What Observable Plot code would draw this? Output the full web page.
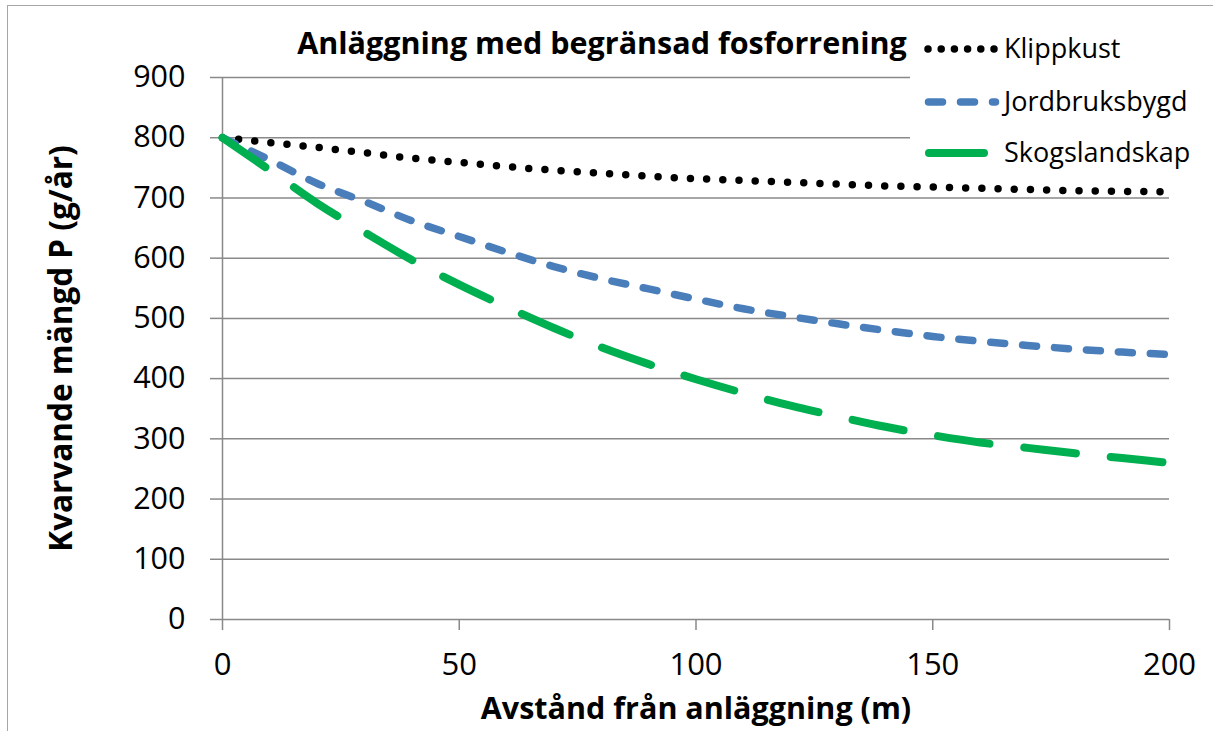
<!DOCTYPE html>
<html>
<head>
<meta charset="utf-8">
<script src="https://cdn.jsdelivr.net/npm/d3@7"></script>
<script src="https://cdn.jsdelivr.net/npm/@observablehq/plot@0.6"></script>
<style>
  body { margin: 0; background: white; }
  #wrap { position: relative; width: 1213px; height: 731px; overflow: hidden; background: white; }
  #border { position: absolute; left: 7px; top: 5px; width: 1230px; height: 750px; border: 1.5px solid #a6a6a6; pointer-events: none; }
  #legend { position: absolute; left: 910px; top: 22px; width: 303px; height: 160px; background: white; font-family: "Open Sans", sans-serif; font-size: 27px; color: #000; }
  .row { position: absolute; left: 0; height: 40px; width: 303px; }
  .row svg { position: absolute; left: 0; top: 0; }
  .row span { position: absolute; left: 94px; top: 0; line-height: 40px; white-space: nowrap; }
</style>
</head>
<body>
<div id="wrap">
  <div id="chart"></div>
  <div id="legend"></div>
  <div id="border"></div>
</div>
<script>
// ---- data ----
const distance = [0, 10, 20, 30, 40, 50, 60, 70, 80, 90, 100, 110, 120, 130, 140, 150, 160, 170, 180, 190, 200];
const klippkust = [800, 792, 784, 775, 766, 759, 752, 746, 741, 736, 732, 729, 726, 723, 720, 718, 716, 714, 712, 711, 710];
const jordbruksbygd = [800, 763, 724, 694, 662, 636, 610, 586, 566, 549, 532, 516, 503, 491, 480, 470, 462, 455, 449, 444, 440];
const skogslandskap = [800, 746, 691, 643, 597, 556, 519, 484, 452, 424, 399, 376, 355, 337, 320, 306, 294, 285, 276, 268, 260];
const seriesNames = ["Klippkust", "Jordbruksbygd", "Skogslandskap"];
const seriesValues = [klippkust, jordbruksbygd, skogslandskap];
const seriesColors = ["#000000", "#4a7ebb", "#00b050"];
const xTicks = [0, 50, 100, 150, 200];
const yTicks = [0, 100, 200, 300, 400, 500, 600, 700, 800, 900];
const titleText = "Anläggning med begränsad fosforrening";
const xLabel = "Avstånd från anläggning (m)";
const yLabel = "Kvarvande mängd P (g/år)";

// ---- styles ----
const lineStyles = [
  {strokeWidth: 7.5, strokeDasharray: "0 16.2"},
  {strokeWidth: 7.5, strokeDasharray: "14 18"},
  {strokeWidth: 8, strokeDasharray: "52 35"}
];
const legendStyles = [
  {w: 7.5, dash: "0 13.2", x1: 18, x2: 84},
  {w: 7.5, dash: "14 18", x1: 18.5, x2: 85.5},
  {w: 8, dash: "none", x1: 19, x2: 74}
];
const gridColor = "#898989";
const font = "'Open Sans', sans-serif";

const rows = seriesNames.map((name, i) =>
  distance.map((d, j) => ({series: name, distance: d, value: seriesValues[i][j]}))
);

const chart = Plot.plot({
  width: 1213,
  height: 731,
  marginLeft: 222,
  marginRight: 44,
  marginTop: 77,
  marginBottom: 112,
  style: {fontFamily: font, fontSize: "30px", background: "white", overflow: "visible"},
  x: {domain: [0, 200]},
  y: {domain: [0, 900]},
  marks: [
    Plot.gridY(yTicks, {stroke: gridColor, strokeOpacity: 1, strokeWidth: 1.5}),
    Plot.ruleX([0], {stroke: gridColor, strokeWidth: 1.5}),
    Plot.axisY({ticks: yTicks, tickSize: 12, tickPadding: 25, fontSize: 30.5, fontFamily: font, stroke: gridColor, strokeWidth: 1.5, fill: "black", label: null, tickFormat: d => String(d)}),
    Plot.axisX({ticks: xTicks, tickSize: 11, tickPadding: 22, fontSize: 31, fontFamily: font, stroke: gridColor, strokeWidth: 1.5, fill: "black", label: null, tickFormat: d => String(d)}),
    ...rows.map((data, i) => Plot.line(data, {
      x: "distance", y: "value", stroke: seriesColors[i],
      strokeWidth: lineStyles[i].strokeWidth, strokeDasharray: lineStyles[i].strokeDasharray,
      strokeLinecap: "round", strokeLinejoin: "round", curve: "monotone-x"
    })),
    Plot.text([titleText], {text: d => d, frameAnchor: "top", dx: -94, dy: -33, lineAnchor: "middle", textAnchor: "middle", fontSize: 30.5, fontWeight: "bold", fontFamily: font, fill: "black"}),
    Plot.text([xLabel], {text: d => d, frameAnchor: "bottom", dy: 90, lineAnchor: "middle", textAnchor: "middle", fontSize: 30.5, fontWeight: "bold", fontFamily: font, fill: "black"}),
    Plot.text([yLabel], {text: d => d, frameAnchor: "left", dx: -161, rotate: -90, lineAnchor: "middle", textAnchor: "middle", fontSize: 31.5, fontWeight: "bold", fontFamily: font, fill: "black"})
  ]
});
document.getElementById("chart").appendChild(chart);

// ---- legend ----
const legend = d3.select("#legend");
const rowTops = [6, 59, 110];
seriesNames.forEach((name, i) => {
  const r = legend.append("div").attr("class", "row").style("top", rowTops[i] + "px");
  const s = r.append("svg").attr("width", 94).attr("height", 40);
  const st = legendStyles[i];
  s.append("line")
    .attr("x1", st.x1).attr("x2", st.x2).attr("y1", 21).attr("y2", 21)
    .attr("stroke", seriesColors[i]).attr("stroke-width", st.w)
    .attr("stroke-linecap", "round")
    .attr("stroke-dasharray", st.dash);
  r.append("span").text(name);
});
</script>
</body>
</html>
